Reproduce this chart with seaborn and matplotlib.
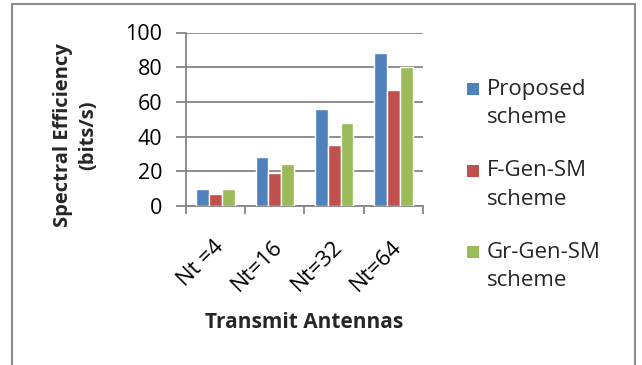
import matplotlib
matplotlib.use("Agg")
import matplotlib.pyplot as plt
import matplotlib.transforms as mtransforms
import seaborn as sns
import pandas as pd
from matplotlib.patches import Rectangle

# Spectral efficiency (bits/s) per antenna configuration
categories = ["Nt =4", "Nt=16", "Nt=32", "Nt=64"]
series = ["Proposed\nscheme", "F-Gen-SM\nscheme", "Gr-Gen-SM\nscheme"]
proposed = [10, 28, 56, 88]
f_gen_sm = [7, 19, 35, 67]
gr_gen_sm = [10, 24, 48, 80]
colors = ["#4F81BD", "#C0504D", "#9BBB59"]
yticks = [0, 20, 40, 60, 80, 100]

df = pd.DataFrame({
    "Transmit Antennas": categories * 3,
    "Scheme": [s for s in series for _ in categories],
    "Spectral Efficiency": proposed + f_gen_sm + gr_gen_sm,
})

sns.set_theme(style="white")
plt.rcParams["font.family"] = ["Open Sans", "DejaVu Sans"]
GRAY = "#868686"

W, H = 642, 365
fig = plt.figure(figsize=(W / 100, H / 100), dpi=100)
ax = fig.add_axes([186 / W, 1 - 206 / H, 237 / W, 173.5 / H])

sns.barplot(data=df, x="Transmit Antennas", y="Spectral Efficiency",
            hue="Scheme", hue_order=series, order=categories,
            palette=colors, width=0.65, edgecolor="white", linewidth=1,
            saturation=1, legend=False, ax=ax, zorder=3)

ax.set_xlim(-0.5, len(categories) - 0.5)
ax.set_ylim(0, 100)
ax.set_yticks(yticks)
ax.yaxis.grid(True, color=GRAY, linewidth=1.3)
ax.xaxis.grid(False)
ax.set_axisbelow(True)

for side in ("top", "right"):
    ax.spines[side].set_visible(False)
for side in ("left", "bottom"):
    ax.spines[side].set_color(GRAY)
    ax.spines[side].set_linewidth(1.3)

ax.tick_params(axis="y", length=7, width=1.3, color=GRAY, pad=10,
               labelsize=15.5, labelcolor="black", left=True)
ax.set_xticks([i - 0.5 for i in range(len(categories) + 1)], minor=True)
ax.tick_params(axis="x", which="minor", length=6, width=1.3, color=GRAY,
               bottom=True, direction="out")
ax.tick_params(axis="x", which="major", length=0, pad=27, labelsize=16,
               labelcolor="black")
shift = mtransforms.ScaledTranslation(5 / 100, 0, fig.dpi_scale_trans)
for lbl in ax.get_xticklabels():
    lbl.set_rotation(45)
    lbl.set_ha("right")
    lbl.set_va("center")
    lbl.set_rotation_mode("anchor")
    lbl.set_transform(lbl.get_transform() + shift)

ax.set_xlabel("Transmit Antennas", fontsize=15, fontweight="bold")
ax.xaxis.set_label_coords(0.5, -0.61)
ax.set_ylabel("Spectral Efficiency\n(bits/s)", fontsize=14.5,
              fontweight="bold", linespacing=1.35)
ax.yaxis.set_label_coords(-0.37, 0.41)

# legend drawn beside the plot
for i, (name, col) in enumerate(zip(series, colors)):
    base = 96 + 81.5 * i
    fig.patches.append(Rectangle((467 / W, 1 - (base - 1) / H), 12 / W, 12 / H,
                                 transform=fig.transFigure, facecolor=col,
                                 edgecolor="none"))
    fig.text(487 / W, 1 - (base - 17) / H, name, fontsize=16, va="top",
             ha="left", linespacing=1.45)

# outer frame
fig.patches.append(Rectangle((12 / W, -0.05), 623 / W, 1.05 - 4 / H,
                             transform=fig.transFigure, facecolor="none",
                             edgecolor="#8c8c8c", linewidth=1.5))

fig.savefig("out.png", dpi=100)
